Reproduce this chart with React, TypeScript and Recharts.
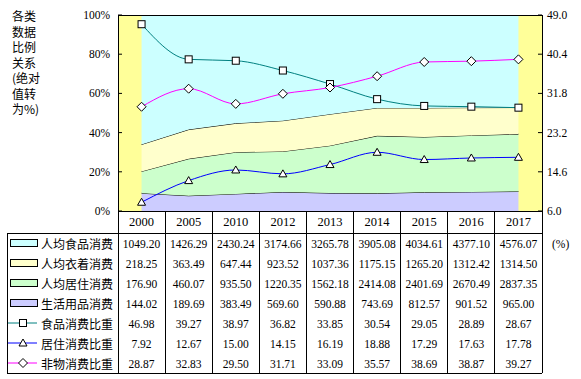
import React from "react";
import { ComposedChart, Area, Line, XAxis, YAxis, CartesianGrid } from "recharts";

const years = ["2000", "2005", "2010", "2012", "2013", "2014", "2015", "2016", "2017"];
const food = [1049.2, 1426.29, 2430.24, 3174.66, 3265.78, 3905.08, 4034.61, 4377.1, 4576.07];
const clothing = [218.25, 363.49, 647.44, 923.52, 1037.36, 1175.15, 1265.2, 1312.42, 1314.5];
const housing = [176.9, 460.07, 935.5, 1220.35, 1562.18, 2414.08, 2401.69, 2670.49, 2837.35];
const goods = [144.02, 189.69, 383.49, 569.6, 590.88, 743.69, 812.57, 901.52, 965.0];
const foodShare = [46.98, 39.27, 38.97, 36.82, 33.85, 30.54, 29.05, 28.89, 28.67];
const housingShare = [7.92, 12.67, 15.0, 14.15, 16.19, 18.88, 17.29, 17.63, 17.78];
const nonMaterialShare = [28.87, 32.83, 29.5, 31.71, 33.09, 35.57, 38.69, 38.87, 39.27];

const leftTicks = [0, 0.2, 0.4, 0.6, 0.8, 1];
const rightTicks = [6.0, 14.6, 23.2, 31.8, 40.4, 49.0];
const titleLines = ["各类", "数据", "比例", "关系", "(绝对", "值转", "为%)"];

// absolute values turned into shares of the yearly total (100% stack)
const data = years.map((year, i) => {
  const total = food[i] + clothing[i] + housing[i] + goods[i];
  return {
    year,
    food: food[i] / total,
    clothing: clothing[i] / total,
    housing: housing[i] / total,
    goods: goods[i] / total,
    foodShare: foodShare[i],
    housingShare: housingShare[i],
    nonMaterialShare: nonMaterialShare[i],
  };
});

const rows = [
  { name: "人均食品消费", values: food, fill: "#CCFFFF" },
  { name: "人均衣着消费", values: clothing, fill: "#FFFFCC" },
  { name: "人均居住消费", values: housing, fill: "#CCFFCC" },
  { name: "生活用品消费", values: goods, fill: "#CCCCFF" },
  { name: "食品消费比重", values: foodShare, color: "#008080", marker: "square" },
  { name: "居住消费比重", values: housingShare, color: "#0000FF", marker: "triangle" },
  { name: "非物消费比重", values: nonMaterialShare, color: "#FF00FF", marker: "diamond" },
];

const serif = "'Liberation Serif', 'Times New Roman', serif";
const cjk = "'Noto Sans CJK SC', sans-serif";

// plot geometry (matches chart margins below)
const PL = 118;
const PR = 542;
const PT = 15;
const PB = 211;
const colW = (PR - PL) / years.length;
const tableTop = 233;
const rowH = 20;
const tableBottom = tableTop + rowH * rows.length;

function Marker({ kind, cx, cy }: { kind: string; cx: number; cy: number }) {
  if (kind === "square") {
    return <rect x={cx - 3.5} y={cy - 3.5} width={7} height={7} fill="#fff" stroke="#000" strokeWidth={1} />;
  }
  if (kind === "triangle") {
    return (
      <polygon
        points={`${cx},${cy - 4} ${cx + 4},${cy + 3} ${cx - 4},${cy + 3}`}
        fill="#fff"
        stroke="#000"
        strokeWidth={1}
      />
    );
  }
  return (
    <polygon
      points={`${cx},${cy - 4.5} ${cx + 4.5},${cy} ${cx},${cy + 4.5} ${cx - 4.5},${cy}`}
      fill="#fff"
      stroke="#000"
      strokeWidth={1}
    />
  );
}

const dot = (kind: string) => (props: any) => (
  <Marker key={`${kind}-${props.index}`} kind={kind} cx={props.cx} cy={props.cy} />
);

function Table() {
  return (
    <svg
      width={581}
      height={379}
      style={{ position: "absolute", left: 0, top: 0, pointerEvents: "none" }}
    >
      <g stroke="#000" strokeWidth={1} fill="none" shapeRendering="crispEdges">
        <rect x={PL} y={PT} width={PR - PL} height={PB - PT} />
        <line x1={7} y1={tableTop} x2={PR} y2={tableTop} />
        <line x1={7} y1={tableBottom} x2={PR} y2={tableBottom} />
        <line x1={7} y1={tableTop} x2={7} y2={tableBottom} />
        <line x1={PL} y1={PB} x2={PL} y2={tableBottom} />
        <line x1={PR} y1={PB} x2={PR} y2={tableBottom} />
        {years.slice(1).map((y, i) => (
          <line key={y} x1={PL + colW * (i + 1)} y1={PB} x2={PL + colW * (i + 1)} y2={tableBottom} />
        ))}
      </g>
      {rows.map((r, ri) => {
        const cy = tableTop + rowH * ri + rowH / 2;
        return (
          <g key={r.name}>
            {r.fill ? (
              <rect x={10} y={cy - 3.5} width={27} height={7} fill={r.fill} stroke="#000" shapeRendering="crispEdges" />
            ) : (
              <g>
                <line x1={8} y1={cy} x2={37} y2={cy} stroke={r.color} />
                <Marker kind={r.marker as string} cx={23} cy={cy} />
              </g>
            )}
            <text x={41} y={cy} dominantBaseline="central" fontSize={12} fontFamily={cjk} fill="#000">
              {r.name}
            </text>
            {r.values.map((v, ci) => (
              <text
                key={ci}
                x={PL + colW * ci + colW / 2}
                y={cy + 1}
                textAnchor="middle"
                dominantBaseline="central"
                fontSize={11.5}
                fontFamily={serif}
                fill="#000"
              >
                {v.toFixed(2)}
              </text>
            ))}
          </g>
        );
      })}
      <text x={552} y={tableTop + rowH / 2 + 1} dominantBaseline="central" fontSize={11.5} fontFamily={serif} fill="#000">
        (%)
      </text>
    </svg>
  );
}

export default function App() {
  return (
    <div style={{ position: "absolute", left: 0, top: 0, width: 581, height: 379, background: "#fff" }}>
      <div
        style={{
          position: "absolute",
          left: 12,
          top: 8,
          fontFamily: cjk,
          fontSize: 12,
          lineHeight: "15.5px",
          color: "#000",
        }}
      >
        {titleLines.map((t) => (
          <div key={t}>{t}</div>
        ))}
      </div>
      <ComposedChart
        width={581}
        height={379}
        data={data}
        margin={{ top: PT, right: 3, bottom: 146, left: 58 }}
        style={{ position: "absolute", left: 0, top: 0 }}
      >
        <CartesianGrid fill="#FFFF99" horizontal={false} vertical={false} />
        <XAxis
          dataKey="year"
          scale="band"
          height={22}
          axisLine={false}
          tickLine={false}
          tickSize={0}
          tickMargin={6}
          tick={{ fill: "#000", fontSize: 12.5, fontFamily: serif }}
        />
        <YAxis
          yAxisId="left"
          width={60}
          domain={[0, 1]}
          ticks={leftTicks}
          allowDataOverflow
          tickFormatter={(v: number) => `${Math.round(v * 100)}%`}
          axisLine={false}
          tickLine={{ stroke: "#000" }}
          tickSize={-4}
          tickMargin={12}
          tick={{ fill: "#000", fontSize: 11.5, fontFamily: serif }}
        />
        <YAxis
          yAxisId="right"
          orientation="right"
          width={36}
          domain={[6, 49]}
          ticks={rightTicks}
          allowDataOverflow
          tickFormatter={(v: number) => v.toFixed(1)}
          axisLine={false}
          tickLine={{ stroke: "#000" }}
          tickSize={-4}
          tickMargin={9}
          tick={{ fill: "#000", fontSize: 11.5, fontFamily: serif }}
        />
        <Area yAxisId="left" stackId="s" type="linear" dataKey="goods" fill="#CCCCFF" fillOpacity={1} stroke="#000" strokeWidth={1} isAnimationActive={false} />
        <Area yAxisId="left" stackId="s" type="linear" dataKey="housing" fill="#CCFFCC" fillOpacity={1} stroke="#000" strokeWidth={1} isAnimationActive={false} />
        <Area yAxisId="left" stackId="s" type="linear" dataKey="clothing" fill="#FFFFCC" fillOpacity={1} stroke="#000" strokeWidth={1} isAnimationActive={false} />
        <Area yAxisId="left" stackId="s" type="linear" dataKey="food" fill="#CCFFFF" fillOpacity={1} stroke="#000" strokeWidth={1} isAnimationActive={false} />
        <Line yAxisId="right" type="monotone" dataKey="foodShare" stroke="#008080" strokeWidth={1} dot={dot("square")} isAnimationActive={false} />
        <Line yAxisId="right" type="monotone" dataKey="housingShare" stroke="#0000FF" strokeWidth={1} dot={dot("triangle")} isAnimationActive={false} />
        <Line yAxisId="right" type="monotone" dataKey="nonMaterialShare" stroke="#FF00FF" strokeWidth={1} dot={dot("diamond")} isAnimationActive={false} />
      </ComposedChart>
      <Table />
    </div>
  );
}
